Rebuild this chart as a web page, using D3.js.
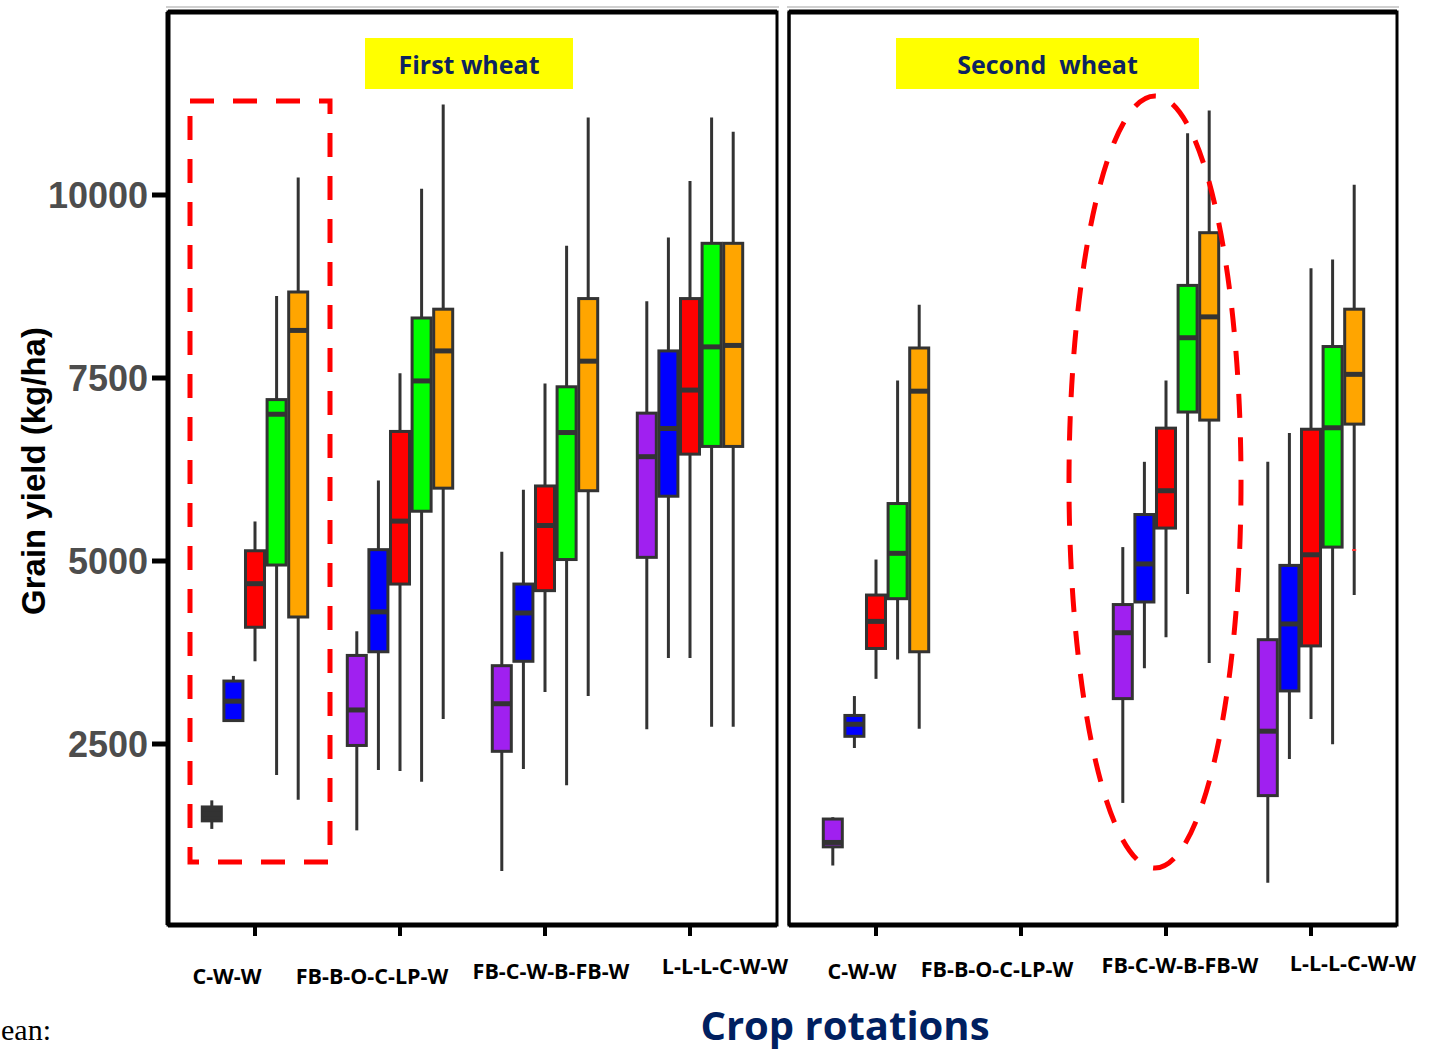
<!DOCTYPE html>
<html>
<head>
<script src="https://cdnjs.cloudflare.com/ajax/libs/d3/7.8.5/d3.min.js"></script>
<style>
  body { margin: 0; background: #fff; }
  svg { display: block; }
</style>
</head>
<body>
<svg id="chart" width="1429" height="1051"></svg>
<script>
// rotations on the x axis (same for both panels)
var rotations = ["C-W-W", "FB-B-O-C-LP-W", "FB-C-W-B-FB-W", "L-L-L-C-W-W"];
// the five boxes inside each rotation, left to right
var seriesNames = ["s1", "s2", "s3", "s4", "s5"];
var seriesColors = ["#a020f0", "#0000ff", "#ff0000", "#00ff00", "#ffa500"];
var yTicks = [2500, 5000, 7500, 10000];

// [lower whisker, Q1, median, Q3, upper whisker] per rotation, per series
var firstWheat = [
  [[1340, 1450, 1545, 1640, 1730], [2820, 2820, 3085, 3360, 3430], [3630, 4095, 4690, 5140, 5540], [2075, 4945, 7005, 7205, 8620], [1740, 4235, 8150, 8675, 10240]],
  [[1320, 2480, 2965, 3710, 4040], [2145, 3760, 4305, 5155, 6100], [2130, 4685, 5545, 6770, 7565], [1985, 5680, 7460, 8320, 10085], [2840, 5995, 7870, 8440, 11235]],
  [[765, 2400, 3050, 3570, 5125], [2160, 3630, 4290, 4685, 5975], [3210, 4595, 5485, 6025, 7425], [1935, 5020, 6755, 7380, 9305], [3155, 5960, 7730, 8585, 11060]],
  [[2700, 5050, 6425, 7020, 8550], [3675, 5885, 6810, 7870, 9420], [3675, 6460, 7335, 8585, 10190], [2735, 6565, 7925, 9340, 11060], [2735, 6565, 7945, 9340, 10865]]
];
var secondWheat = [
  [[840, 1095, 1155, 1475, 1500], [2445, 2605, 2770, 2890, 3155], [3390, 3805, 4175, 4535, 5020], [3655, 4485, 5105, 5785, 7465], [2710, 3760, 7320, 7910, 8500]],
  null,
  [[1695, 3120, 4020, 4405, 5190], [3535, 4440, 4960, 5635, 6355], [3960, 5450, 5960, 6815, 7465], [4550, 7035, 8050, 8765, 10845], [3605, 6925, 8335, 9485, 11155]],
  [[605, 1795, 2675, 3925, 6355], [2295, 3225, 4140, 4940, 6750], [2840, 3840, 5085, 6800, 9000], [2495, 5190, 6820, 7930, 9120], [4535, 6870, 7550, 8440, 10140]]
];
var secondOutliers = [{ rot: 3, ser: 4, value: 5150 }];

var svg = d3.select("#chart");

var y = d3.scaleLinear().domain([2500, 10000]).range([744, 195]);
var sub = d3.scaleBand().domain(seriesNames).range([-54, 54]).paddingInner(0.12).paddingOuter(0.06);

var panels = [
  { title: "First wheat", x0: 168, x1: 777, range: [255, 690], stats: firstWheat, outliers: [],
    darkBox: "C-W-W|s1", leftW: 5,
    titleBox: [365, 573], labelDx: [-28, -28, 6, 35], labelY: [977, 977, 972, 967] },
  { title: "Second  wheat", x0: 789, x1: 1397, range: [876, 1311], stats: secondWheat, outliers: secondOutliers,
    darkBox: "", leftW: 3,
    titleBox: [896, 1199], labelDx: [-14, -24, 14, 42], labelY: [972, 970, 966, 964] }
];

var panelTop = 12, panelBottom = 925;

panels.forEach(function (p) {
  var x = d3.scalePoint().domain(rotations).range(p.range);
  var g = svg.append("g");

  // panel frame
  g.append("line").attr("x1", p.x0 - 2).attr("x2", p.x1 + 2).attr("y1", panelTop - 5).attr("y2", panelTop - 5)
    .attr("stroke", "#d0d0d0").attr("stroke-width", 2);
  g.append("rect").attr("x", p.x0).attr("y", panelTop).attr("width", p.x1 - p.x0).attr("height", panelBottom - panelTop)
    .attr("fill", "none").attr("stroke", "#000").attr("stroke-width", 3);
  g.append("line").attr("x1", p.x0).attr("x2", p.x0).attr("y1", panelTop).attr("y2", panelBottom)
    .attr("stroke", "#000").attr("stroke-width", p.leftW);
  g.append("line").attr("x1", p.x0).attr("x2", p.x1).attr("y1", panelTop).attr("y2", panelTop)
    .attr("stroke", "#000").attr("stroke-width", 5);
  g.append("line").attr("x1", p.x0).attr("x2", p.x1).attr("y1", panelBottom).attr("y2", panelBottom)
    .attr("stroke", "#000").attr("stroke-width", 5);

  // x ticks
  g.selectAll(".xt").data(rotations).enter().append("line")
    .attr("x1", function (d) { return x(d); }).attr("x2", function (d) { return x(d); })
    .attr("y1", panelBottom).attr("y2", panelBottom + 11)
    .attr("stroke", "#000").attr("stroke-width", 4);

  // x labels
  g.selectAll(".xl").data(rotations).enter().append("text")
    .attr("x", function (d, i) { return x(d) + p.labelDx[i]; })
    .attr("y", function (d, i) { return p.labelY[i] + 7; })
    .attr("text-anchor", "middle")
    .style("font-family", "'Open Sans', sans-serif").style("font-weight", "bold").style("font-size", "21.5px")
    .attr("fill", "#000")
    .text(function (d) { return d; });

  // title box
  g.append("rect").attr("x", p.titleBox[0]).attr("y", 38).attr("width", p.titleBox[1] - p.titleBox[0]).attr("height", 51)
    .attr("fill", "#ffff00");
  g.append("text").attr("x", (p.titleBox[0] + p.titleBox[1]) / 2).attr("y", 74)
    .attr("text-anchor", "middle")
    .style("font-family", "'Open Sans', sans-serif").style("font-weight", "bold").style("font-size", "25px")
    .style("white-space", "pre")
    .attr("fill", "#0d2360").text(p.title);

  // boxes
  var rows = [];
  p.stats.forEach(function (grp, gi) {
    if (!grp) return;
    grp.forEach(function (s, si) {
      var key = rotations[gi] + "|" + seriesNames[si];
      rows.push({ rot: rotations[gi], ser: seriesNames[si], color: key === p.darkBox ? "#333" : seriesColors[si],
        lo: s[0], q1: s[1], med: s[2], q3: s[3], hi: s[4] });
    });
  });
  var bw = sub.bandwidth();
  var cx = function (d) { return x(d.rot) + sub(d.ser) + bw / 2; };
  var boxes = g.selectAll(".box").data(rows).enter().append("g");
  boxes.append("line")
    .attr("x1", cx).attr("x2", cx)
    .attr("y1", function (d) { return y(d.hi); }).attr("y2", function (d) { return y(d.lo); })
    .attr("stroke", "#333").attr("stroke-width", 3);
  boxes.append("rect")
    .attr("x", function (d) { return x(d.rot) + sub(d.ser); })
    .attr("width", bw)
    .attr("y", function (d) { return y(d.q3); })
    .attr("height", function (d) { return Math.max(y(d.q1) - y(d.q3), 1); })
    .attr("fill", function (d) { return d.color; })
    .attr("stroke", "#333").attr("stroke-width", 3);
  boxes.append("line")
    .attr("x1", function (d) { return x(d.rot) + sub(d.ser); })
    .attr("x2", function (d) { return x(d.rot) + sub(d.ser) + bw; })
    .attr("y1", function (d) { return y(d.med); }).attr("y2", function (d) { return y(d.med); })
    .attr("stroke", "#333").attr("stroke-width", 5);

  // outliers
  g.selectAll(".out").data(p.outliers).enter().append("line")
    .attr("x1", function (d) { return x(rotations[d.rot]) + sub(seriesNames[d.ser]) + bw / 2 - 2; })
    .attr("x2", function (d) { return x(rotations[d.rot]) + sub(seriesNames[d.ser]) + bw / 2 + 2; })
    .attr("y1", function (d) { return y(d.value); }).attr("y2", function (d) { return y(d.value); })
    .attr("stroke", "#ff3030").attr("stroke-width", 2);
});

// y axis on the left panel
var yAxis = svg.append("g");
yAxis.selectAll(".yt").data(yTicks).enter().append("line")
  .attr("x1", 152).attr("x2", 168)
  .attr("y1", function (d) { return y(d); }).attr("y2", function (d) { return y(d); })
  .attr("stroke", "#000").attr("stroke-width", 5);
yAxis.selectAll(".yl").data(yTicks).enter().append("text")
  .attr("x", 148).attr("y", function (d) { return y(d) + 13; })
  .attr("text-anchor", "end")
  .style("font-family", "'Liberation Sans', Arial, sans-serif").style("font-weight", "bold").style("font-size", "36px")
  .attr("fill", "#4d4d4d")
  .text(function (d) { return d; });
svg.append("text")
  .attr("transform", "translate(45,471) rotate(-90)")
  .attr("text-anchor", "middle")
  .style("font-family", "'Liberation Sans', Arial, sans-serif").style("font-weight", "bold").style("font-size", "33px")
  .attr("fill", "#000").text("Grain yield (kg/ha)");

// x axis title
svg.append("text").attr("x", 845).attr("y", 1040).attr("text-anchor", "middle")
  .style("font-family", "'Open Sans', sans-serif").style("font-weight", "bold").style("font-size", "40px")
  .attr("fill", "#002060").text("Crop rotations");

// caption fragment at the bottom left
svg.append("text").attr("x", 1).attr("y", 1040)
  .style("font-family", "'Liberation Serif', 'Times New Roman', serif").style("font-size", "30px")
  .attr("fill", "#000").text("ean:");

// highlight shapes
svg.append("rect").attr("x", 190).attr("y", 101).attr("width", 140).attr("height", 761)
  .attr("fill", "none").attr("stroke", "#ff0000").attr("stroke-width", 5).attr("stroke-dasharray", "24,19");
svg.append("ellipse").attr("cx", 1155).attr("cy", 482).attr("rx", 86).attr("ry", 386)
  .attr("fill", "none").attr("stroke", "#ff0000").attr("stroke-width", 5).attr("stroke-dasharray", "24,19");
</script>
</body>
</html>
